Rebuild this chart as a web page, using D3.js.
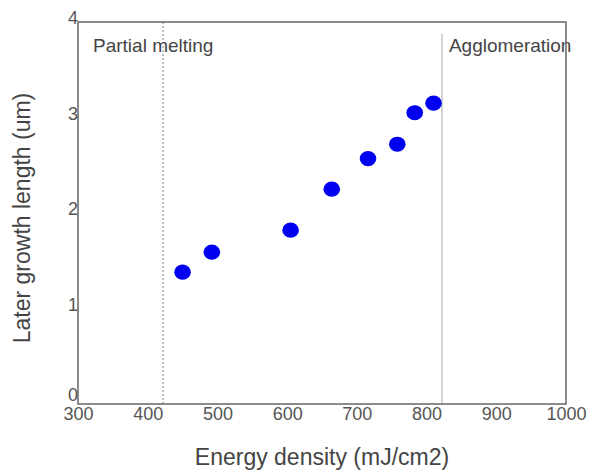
<!DOCTYPE html>
<html>
<head>
<meta charset="utf-8">
<script src="https://cdn.jsdelivr.net/npm/d3@7"></script>
<style>
  body { margin: 0; background: #fff; }
  text { font-family: "Liberation Sans", Arial, sans-serif; }
</style>
</head>
<body>
<div id="chart"></div>
<script>
// data
const energy = [450, 492, 605, 664, 716, 758, 783, 810];
const growth = [1.38, 1.59, 1.82, 2.25, 2.57, 2.72, 3.05, 3.15];
const xTicks = [300, 400, 500, 600, 700, 800, 900, 1000];
const yTicks = [0, 1, 2, 3, 4];
const regionBounds = [422, 822];
const regionLabels = ["Partial melting", "Agglomeration"];

// set the dimensions and margins of the graph
const margin = { top: 22, right: 25, bottom: 70, left: 78 },
    width = 591 - margin.left - margin.right,
    height = 474 - margin.top - margin.bottom;

const svg = d3.select("#chart")
    .append("svg")
    .attr("width", width + margin.left + margin.right)
    .attr("height", height + margin.top + margin.bottom)
    .append("g")
    .attr("transform", `translate(${margin.left},${margin.top})`);

const x = d3.scaleLinear().domain([300, 1000]).range([0, width]);
const y = d3.scaleLinear().domain([0, 4]).range([height, 0]);

// region boundaries
svg.append("line")
    .attr("x1", x(regionBounds[0])).attr("x2", x(regionBounds[0]))
    .attr("y1", 0).attr("y2", height)
    .attr("stroke", "#aaa")
    .attr("stroke-width", 1.5)
    .attr("stroke-dasharray", "2,2");
svg.append("line")
    .attr("x1", x(regionBounds[1])).attr("x2", x(regionBounds[1]))
    .attr("y1", 12).attr("y2", height)
    .attr("stroke", "#c4c4c4")
    .attr("stroke-width", 1.5);

// region labels
svg.append("text")
    .attr("x", 15).attr("y", 30)
    .attr("font-size", 19)
    .attr("fill", "#444")
    .text(regionLabels[0]);
svg.append("text")
    .attr("x", x(regionBounds[1]) + 7).attr("y", 30)
    .attr("font-size", 19)
    .attr("fill", "#444")
    .text(regionLabels[1]);

// frame
svg.append("rect")
    .attr("width", width).attr("height", height)
    .attr("fill", "none")
    .attr("stroke", "#666")
    .attr("stroke-width", 1.5);

// X axis
const xAxis = svg.append("g")
    .attr("transform", `translate(0, ${height})`)
    .call(d3.axisBottom(x).tickValues(xTicks).tickFormat(d3.format("d")).tickSize(0).tickPadding(3));
xAxis.select(".domain").remove();
xAxis.selectAll("text")
    .attr("font-size", 18)
    .attr("fill", "#555");

// Y axis
const yAxis = svg.append("g")
    .call(d3.axisLeft(y).tickValues(yTicks).tickFormat(d3.format("d")).tickSize(0).tickPadding(0));
yAxis.select(".domain").remove();
yAxis.selectAll("text")
    .attr("font-size", 18)
    .attr("fill", "#555")
    .attr("dy", d => d === 0 ? "-0.2em" : "0.1em");

// axis titles
svg.append("text")
    .attr("x", width / 2)
    .attr("y", height + 61)
    .attr("text-anchor", "middle")
    .attr("font-size", 23)
    .attr("fill", "#444")
    .text("Energy density (mJ/cm2)");
svg.append("text")
    .attr("transform", `translate(${-margin.left + 30}, ${height / 2 + 5}) rotate(-90)`)
    .attr("text-anchor", "middle")
    .attr("font-size", 23)
    .attr("fill", "#444")
    .text("Later growth length (um)");

// points
svg.append("g")
    .selectAll("ellipse")
    .data(energy.map((e, i) => ({ e: e, g: growth[i] })))
    .join("ellipse")
    .attr("cx", d => x(d.e))
    .attr("cy", d => y(d.g))
    .attr("rx", 8.3)
    .attr("ry", 7.6)
    .attr("fill", "#0000f0");
</script>
</body>
</html>
